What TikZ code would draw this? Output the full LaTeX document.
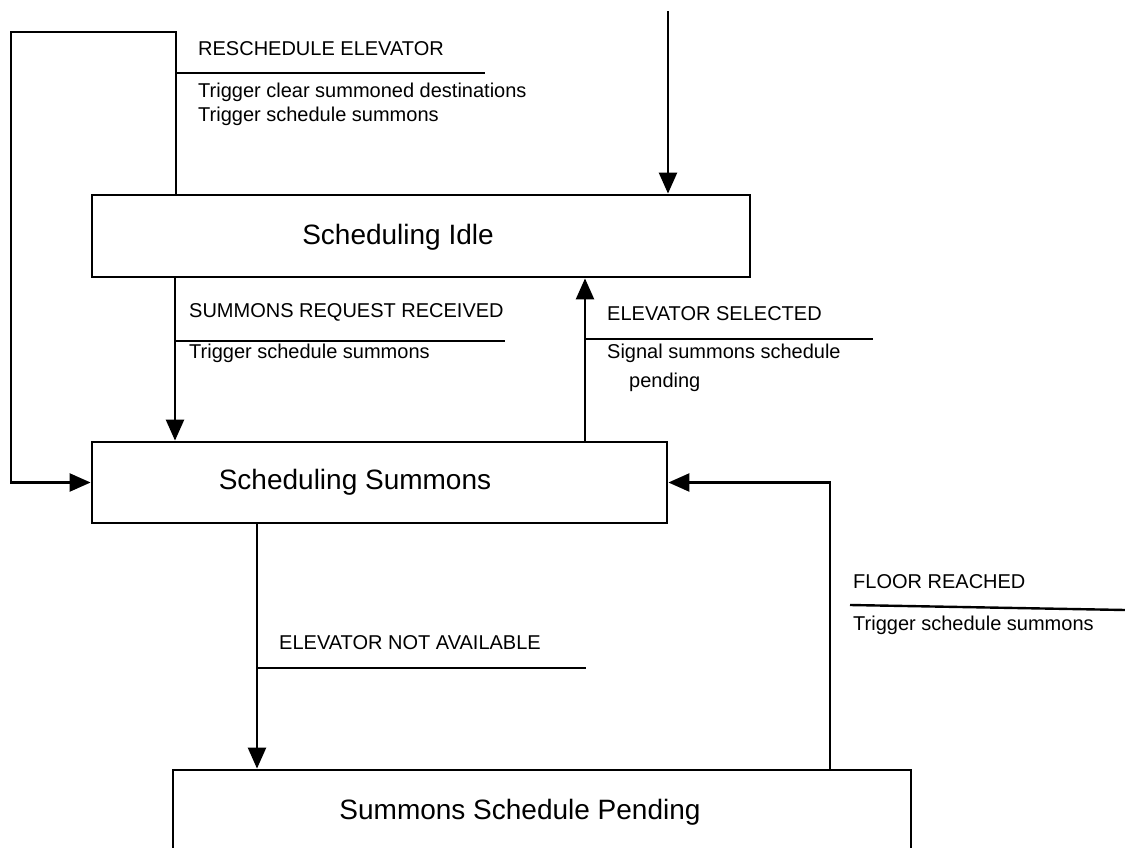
\documentclass[tikz,border=0pt]{standalone}
\usepackage{fontspec}
\setmainfont{Liberation Sans}
\usetikzlibrary{arrows.meta}
\begin{document}
\begin{tikzpicture}[x=1pt,y=-1pt,
  box/.style={draw, line width=2.8pt, inner sep=0pt},
  title/.style={inner sep=0pt, font=\fontsize{28}{34}\selectfont},
  lbl/.style={anchor=west, inner sep=0pt, font=\fontsize{20}{24}\selectfont},
  conn/.style={line width=2.4pt, -{Triangle[length=21pt,width=18pt]}},
  plain/.style={line width=2.4pt},
  guard/.style={line width=2.4pt}]
\path[use as bounding box, clip] (0,0) rectangle (1125,848);

% states
\node[box, minimum width=658pt, minimum height=82pt] (idle) at (421,236) {};
\node[title] (idleT) at (398,237) {Scheduling Idle};
\node[box, minimum width=575pt, minimum height=81pt] (summ) at (379.5,482.5) {};
\node[title] (summT) at (355,482) {Scheduling Summons};
\node[box, minimum width=738pt, minimum height=160pt] (pend) at (542,850) {};
\node[title] (pendT) at (520,812) {Summons Schedule Pending};

% helper coordinates
\coordinate (init) at (668,11);
\coordinate (r1) at (176,32);
\coordinate (r2) at (11,32);
\coordinate (srx) at (175,0);
\coordinate (esx) at (585,0);
\coordinate (nax) at (257,0);
\coordinate (frx) at (830,0);

% connectors
\draw[conn] (init) -- (idle.north -| init);
\draw[conn] (idle.north -| r1) -- (r1) -- (r2) |- (summ.west);
\draw[conn] (idle.south -| srx) -- (summ.north -| srx);
\draw[conn] (summ.north -| esx) -- (idle.south -| esx);
\draw[conn] (summ.south -| nax) -- (pend.north -| nax);
\draw[conn] (pend.north -| frx) |- (summ.east);

% transition labels
\node[lbl] (l1) at (198,49) {RESCHEDULE ELEVATOR};
\coordinate (g1a) at (176,73);
\coordinate (g1b) at (485,73);
\draw[guard] (g1a) -- (g1b);
\node[lbl] (l1a) at (198,92) {Trigger clear summoned destinations};
\node[lbl] (l1b) at (198,116) {Trigger schedule summons};

\node[lbl] (l2) at (189,312) {SUMMONS REQUEST RECEIVED};
\coordinate (g2a) at (175,341);
\coordinate (g2b) at (505,341);
\draw[guard] (g2a) -- (g2b);
\node[lbl] (l2a) at (189,353) {Trigger schedule summons};

\node[lbl] (l3) at (607,314) {ELEVATOR SELECTED};
\coordinate (g3a) at (585,339);
\coordinate (g3b) at (873,339);
\draw[guard] (g3a) -- (g3b);
\node[lbl] (l3a) at (607,353) {Signal summons schedule};
\node[lbl] (l3b) at (629,382) {pending};

\node[lbl] (l4) at (279,643) {ELEVATOR NOT AVAILABLE};
\coordinate (g4a) at (257,668);
\coordinate (g4b) at (586,668);
\draw[guard] (g4a) -- (g4b);

\node[lbl] (l5) at (853,582) {FLOOR REACHED};
\coordinate (g5a) at (850,605);
\coordinate (g5b) at (1125,610);
\draw[guard] (g5a) -- (g5b);
\node[lbl] (l5a) at (853,625) {Trigger schedule summons};
\end{tikzpicture}
\end{document}
